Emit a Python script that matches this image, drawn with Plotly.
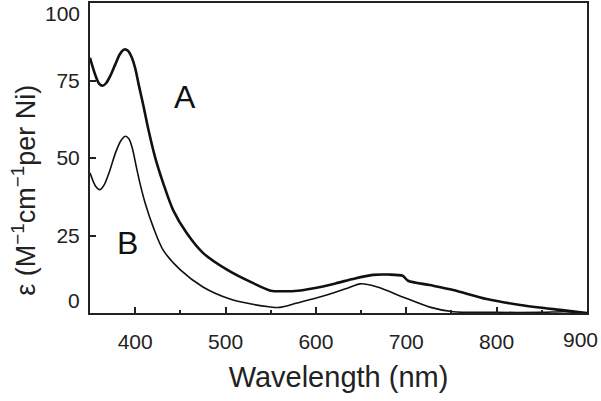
import plotly.graph_objects as go

# Curve A (thick)
wl_a = [350, 355, 360, 364, 368, 373, 378, 383, 388, 392, 396, 400, 404, 409, 414, 422,
        431, 442, 457, 475, 502, 530, 550, 565, 580, 605, 625, 641, 663, 680, 696, 702,
        726, 752, 789, 826, 870, 900]
eps_a = [82.3, 77.5, 74.0, 73.3, 74.2, 76.8, 80.2, 83.5, 85.0, 84.6, 82.6, 79.0, 73.5,
         67.0, 60.0, 50.3, 41.9, 33.2, 25.8, 19.4, 13.9, 9.7, 7.2, 7.0, 7.2, 8.4, 9.8,
         11.0, 12.3, 12.4, 12.0, 10.4, 9.0, 7.4, 4.5, 2.6, 1.0, 0.0]

# Curve B (thin)
wl_b = [350, 356, 361, 366, 372, 378, 384, 389, 393, 397, 401, 406, 411, 420, 431, 450,
        475, 505, 530, 548, 560, 579, 612, 635, 649, 668, 696, 726, 752, 800, 850, 875, 900]
eps_b = [45.2, 41.0, 39.8, 41.5, 46.0, 51.5, 55.5, 57.0, 56.2, 53.0, 47.5, 41.0, 35.5,
         27.7, 20.3, 13.9, 8.4, 4.5, 2.8, 2.0, 1.8, 3.2, 5.8, 8.0, 9.4, 8.4, 5.2, 1.9,
         0.4, 0.2, 0.2, 0.4, 0.0]

y_ticks = [0, 25, 50, 75, 100]
y_ticktext = ["", "25", "50", "75", ""]
x_ticks = [400, 500, 600, 700, 800, 900]
x_ticktext = ["400", "500", "600", "700", "800", ""]

FONT = "Liberation Sans, Arial"
INK = "#111111"

fig = go.Figure()
fig.add_trace(go.Scatter(x=wl_a, y=eps_a, mode="lines",
                         line=dict(color=INK, width=2.6, shape="spline", smoothing=0.8)))
fig.add_trace(go.Scatter(x=wl_b, y=eps_b, mode="lines",
                         line=dict(color=INK, width=1.6, shape="spline", smoothing=0.8)))

fig.add_annotation(x=455, y=69.7, text="A", showarrow=False,
                   font=dict(size=32, color=INK, family=FONT))
fig.add_annotation(x=392, y=22.6, text="B", showarrow=False,
                   font=dict(size=32, color=INK, family=FONT))

# end tick labels, nudged inward as in the original figure
fig.add_annotation(x=0, xref="paper", y=100, yref="y", text="100", showarrow=False,
                   xanchor="right", xshift=-8, yshift=-10,
                   font=dict(size=21, color="#222", family=FONT))
fig.add_annotation(x=0, xref="paper", y=0, yref="y", text="0", showarrow=False,
                   xanchor="right", xshift=-8, yshift=13,
                   font=dict(size=21, color="#222", family=FONT))
fig.add_annotation(x=900, xref="x", y=0, yref="paper", text="900", showarrow=False,
                   yanchor="top", xshift=-7, yshift=-13,
                   font=dict(size=21, color="#222", family=FONT))

# y-axis title (placed slightly below centre, as in the original)
fig.add_annotation(x=-0.133, xref="paper", y=0.397, yref="paper",
                   text="ε (M<sup>−1</sup>cm<sup>−1</sup>per Ni)", textangle=-90,
                   showarrow=False, xanchor="center", yanchor="middle",
                   font=dict(size=27, color="#222", family=FONT))

fig.update_layout(
    width=601, height=401,
    margin=dict(l=90, r=14, t=3, b=88),
    paper_bgcolor="white", plot_bgcolor="white",
    showlegend=False,
    font=dict(family=FONT, color="#222222", size=21),
)
fig.update_xaxes(
    range=[350, 900], tickvals=x_ticks, ticktext=x_ticktext, ticks="inside", ticklen=6,
    tickwidth=1.5, tickcolor="#222", showline=True, linecolor="#222", linewidth=2,
    mirror=True, showgrid=False, zeroline=False, tickfont=dict(size=21),
    ticklabelstandoff=9, automargin=False,
    minor=dict(ticks="inside", dtick=50, tick0=350, ticklen=3, tickcolor="#222"),
    title=dict(text="Wavelength (nm)", font=dict(size=29), standoff=14),
)
fig.update_yaxes(
    range=[0, 100], tickvals=y_ticks, ticktext=y_ticktext, ticks="inside", ticklen=6,
    tickwidth=1.5, tickcolor="#222", showline=True, linecolor="#222", linewidth=2,
    mirror=True, showgrid=False, zeroline=False, tickfont=dict(size=21),
    ticklabelstandoff=4, automargin=False,
)

fig.write_html("out.html", config={"displayModeBar": False},
               post_script="document.body.style.margin='0';")
